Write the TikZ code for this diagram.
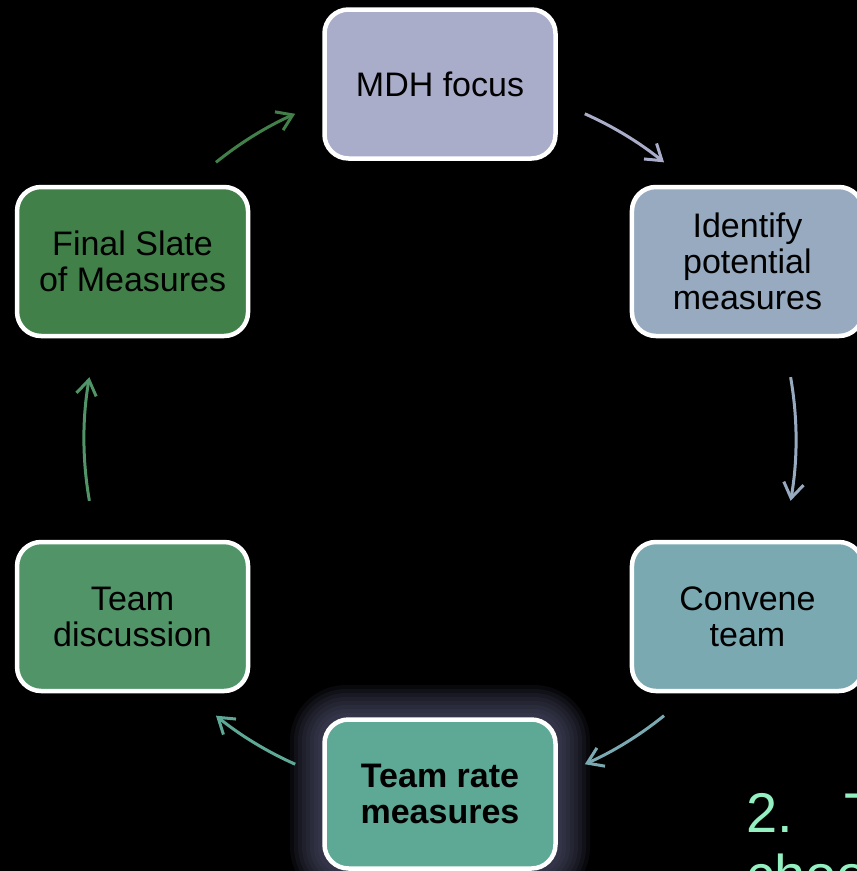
\documentclass[tikz,border=0pt]{standalone}
\usepackage{fontspec}
\setmainfont{Liberation Sans}
\usetikzlibrary{arrows.meta}

\definecolor{mdhc}{RGB}{169,173,202}
\definecolor{identc}{RGB}{151,170,192}
\definecolor{convc}{RGB}{122,169,178}
\definecolor{ratec}{RGB}{94,168,150}
\definecolor{discc}{RGB}{80,148,104}
\definecolor{finalc}{RGB}{65,128,73}
\definecolor{glowc}{RGB}{95,96,130}
\definecolor{notec}{RGB}{148,240,192}

\tikzset{every picture/.style={line width=3pt}}

\begin{document}
\begin{tikzpicture}[x=1pt,y=1pt,yscale=-1,xscale=1,
  stepbox/.style={draw=white,line width=4.5pt,rounded corners=24pt,minimum width=231pt,minimum height=149pt,align=center,inner sep=0pt,font=\fontsize{34}{36}\selectfont},
  flow/.style={-{Straight Barb[length=15pt,width=20pt]}}]
%set diagram to 857 x 871 on black
\useasboundingbox (0,0) rectangle (857,871);
\clip (0,0) rectangle (857,871);
\fill[black] (0,0) rectangle (857,871);

\coordinate (ring) at (440,439);
\coordinate (ratepos) at ([shift={(90:355)}]ring);

%Glow round the current step
\foreach \g in {32,28,...,4}
  \fill[glowc,opacity=0.1,rounded corners=24+\g] ([shift={(-118-\g,-77-\g)}]ratepos) rectangle ([shift={(118+\g,77+\g)}]ratepos);

%Shape: Rounded Rectangles
\node[stepbox,fill=mdhc] (mdh) at ([shift={(-90:355)}]ring) {MDH focus};
\node[stepbox,fill=identc] (ident) at ([shift={(-30:355)}]ring) {Identify\\potential\\measures};
\node[stepbox,fill=convc] (convene) at ([shift={(30:355)}]ring) {Convene\\team};
\node[stepbox,fill=ratec,font=\fontsize{34}{36}\selectfont\bfseries,
  path picture={\shade[top color=ratec,bottom color=ratec!55!black] (path picture bounding box.south west) rectangle ++(240,-20);}] (rate) at (ratepos) {Team rate\\measures};
\node[stepbox,fill=discc] (discuss) at ([shift={(150:355)}]ring) {Team\\discussion};
\node[stepbox,fill=finalc] (final) at ([shift={(210:355)}]ring) {Final Slate\\of Measures};

%Curve Lines round the ring
\foreach \s/\e/\c [count=\i] in {-66/-51/mdhc,-10/10/identc,51/66/convc,114/129/ratec,170/190/discc,231/246/finalc} {
  \coordinate (arc\i) at ([shift={(\s:356)}]ring);
  \draw[flow,draw=\c] (arc\i) arc[start angle=\s,end angle=\e,radius=356];
}

% Text Node
\node[anchor=base west,inner sep=0pt,text=notec,align=left,font=\fontsize{56}{62}\selectfont] (note) at (745,894) {2.\hspace{51pt}T\\choo};

\end{tikzpicture}
\end{document}
